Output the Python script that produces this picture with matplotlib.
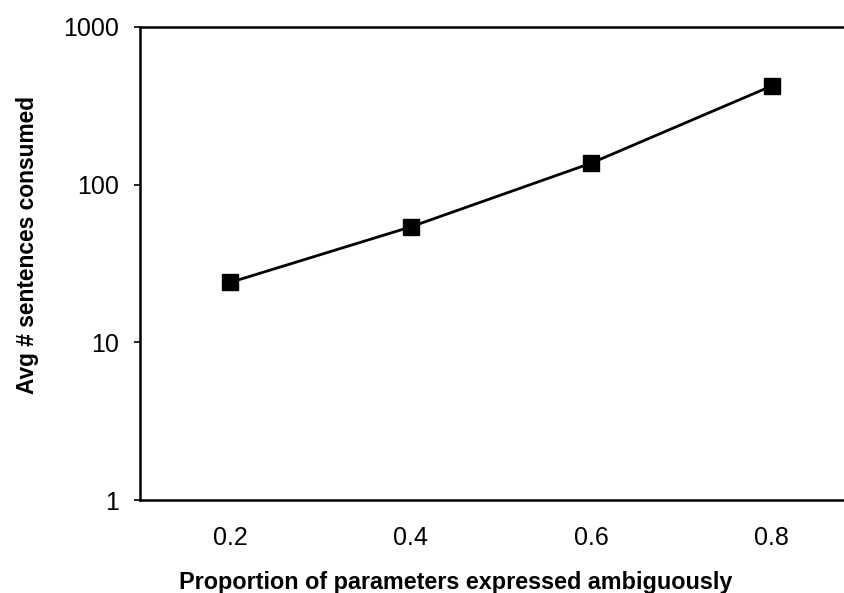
"""
Avg # sentences consumed vs proportion of ambiguous parameters (log scale)
"""

from matplotlib import pyplot as plt

# --------------------------------------------------------------------------------------------------
# Data
# --------------------------------------------------------------------------------------------------

categories = ['0.2', '0.4', '0.6', '0.8']    # x-axis categories
sentences = [24, 54, 137, 423]               # avg # sentences consumed
y_ticks = [1, 10, 100, 1000]
y_tick_labels = ['1', '10', '100', '1000']

# --------------------------------------------------------------------------------------------------
# Plot
# --------------------------------------------------------------------------------------------------

plt.rcParams['font.family'] = ['Liberation Sans', 'DejaVu Sans']

fig = plt.figure(figsize=(8.45, 5.93), dpi=100)
# axes runs a little past the right edge, like the cropped original
ax = fig.add_axes([140 / 845, 1 - 500 / 593, 722 / 845, 473 / 593])

x = list(range(len(categories)))
ax.plot(x, sentences, color='black', linewidth=2,
        marker='s', markersize=11, markerfacecolor='black', markeredgecolor='black')

ax.set_yscale('log')
ax.set_ylim(1, 1000)
ax.set_xlim(-0.5, len(categories) - 0.5)

ax.set_yticks(y_ticks)
ax.set_yticklabels(y_tick_labels)
ax.minorticks_off()
ax.set_xticks(x)
ax.set_xticklabels(categories)

ax.tick_params(axis='y', length=4, width=1.2, labelsize=18, pad=11)
ax.tick_params(axis='x', length=0, labelsize=18, pad=19)

for side in ['left', 'bottom', 'top']:
    ax.spines[side].set_linewidth(1.8)
ax.spines['right'].set_visible(False)

ax.set_xlabel('Proportion of parameters expressed ambiguously',
              fontsize=16.8, fontweight='bold')
ax.set_ylabel('Avg # sentences consumed', fontsize=16.4, fontweight='bold')
ax.xaxis.set_label_coords(0.4377, -0.150)
ax.yaxis.set_label_coords(-0.140, 0.539)

fig.savefig('out.png', dpi=100)
